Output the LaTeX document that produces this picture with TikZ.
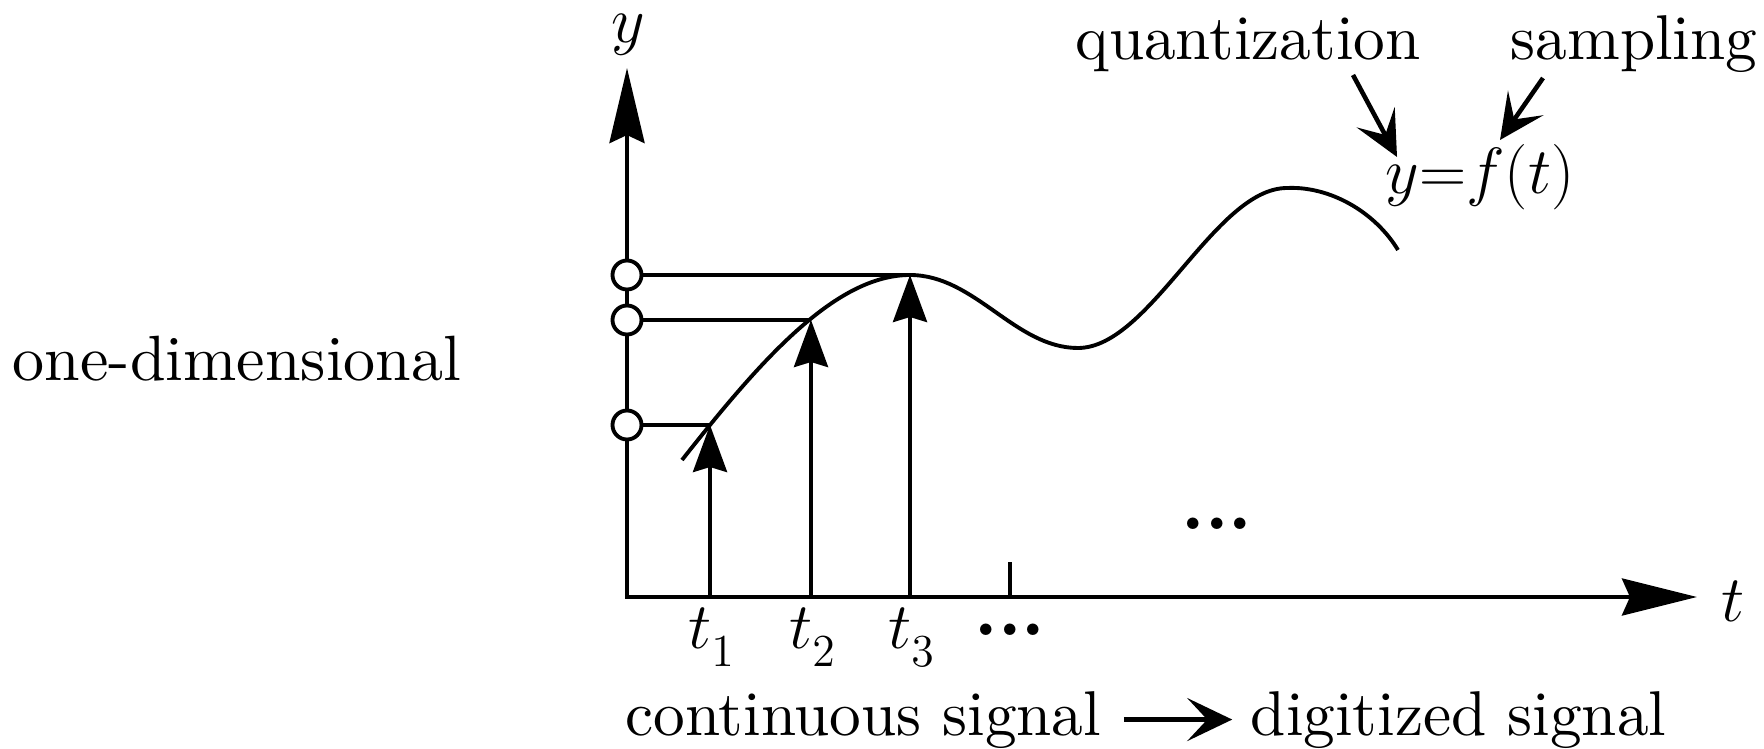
\RequirePackage{fix-cm}
\documentclass[tikz,border=0pt]{standalone}
\usepackage{fontspec}
\setmainfont{lmroman10-regular.otf}[BoldFont=lmroman10-bold.otf, ItalicFont=lmroman10-italic.otf]
\usetikzlibrary{arrows.meta}
\newcommand{\lowsub}[1]{_{\lower2.4pt\hbox{$\scriptstyle #1$}}}
\begin{document}
\begin{tikzpicture}[x=0.01cm,y=-0.01cm,
  every node/.style={font=\fontsize{18}{22}\selectfont, inner sep=0pt},
  mathlbl/.style={font=\fontsize{18.6}{22}\selectfont},
  ln/.style={line width=1.1pt},
  axisline/.style={line width=1.2pt,
    {Stealth[length=0.75cm,width=0.35cm,inset=0.08cm]}-{Stealth[length=0.75cm,width=0.37cm,inset=0.08cm]}},
  sample/.style={line width=1.1pt, -{Stealth[length=0.47cm,width=0.34cm,inset=0.05cm]}},
  pointer/.style={line width=1.3pt, -{Stealth[length=0.45cm,width=0.43cm,inset=0.2cm]}},
  level/.style={circle, draw, fill=white, line width=1.1pt, minimum size=0.29cm, inner sep=0pt},
  lbl/.style={anchor=base},
  dotlbl/.style={font=\fontsize{21}{24}\selectfont\bfseries}
]
\useasboundingbox (0,0) rectangle (1764,749);

% axes
\coordinate (O) at (627,597);
\coordinate (ytop) at (627,68);
\coordinate (xend) at (1697,597);
\draw[axisline] (ytop) -- (O) -- (xend);
\node[lbl, mathlbl] (ylab) at (628,43) {$y$};
\node[lbl, mathlbl] (tlab) at (1733,621) {$t$};

% signal curve
\draw[ln] (682,460) .. controls (760,361) and (835,275) .. (910,275)
  .. controls (975,275) and (1015,348) .. (1078,348)
  .. controls (1150,348) and (1215,188) .. (1287,188)
  .. controls (1330,186) and (1375,212) .. (1398,250);

% sample points on the curve
\coordinate (p1) at (710,425);
\coordinate (p2) at (811,320);
\coordinate (p3) at (910,275);
\coordinate (f1) at (710,597);
\coordinate (f2) at (811,597);
\coordinate (f3) at (910,597);

% quantization levels
\node[level] (c1) at (627,425) {};
\node[level] (c2) at (627,320) {};
\node[level] (c3) at (627,275) {};
\draw[ln] (c1) -- (p1);
\draw[ln] (c2) -- (p2);
\draw[ln] (c3) -- (p3);

% sampling arrows
\draw[sample] (f1) -- (p1);
\draw[sample] (f2) -- (p2);
\draw[sample] (f3) -- (p3);

% tick
\coordinate (tk) at (1010,597);
\coordinate (tktop) at (1010,562);
\draw[ln] (tk) -- (tktop);

% labels on the t axis
\node[lbl, mathlbl] (t1) at (712,648) {$t\lowsub{1}$};
\node[lbl, mathlbl] (t2) at (813,648) {$t\lowsub{2}$};
\node[lbl, mathlbl] (t3) at (912,648) {$t\lowsub{3}$};
\node[dotlbl] (dotsa) at (1010,630) {...};
\node[dotlbl] (dotsb) at (1217,524) {...};

% top labels
\node[lbl] (quant) at (1248,60) {quantization};
\node[lbl] (samp) at (1634,60) {sampling};
\node[lbl, mathlbl] (func) at (1480,194) {$y{=}f(t)$};
\coordinate (qa) at (1353,75);
\coordinate (qb) at (1397,157);
\coordinate (sa) at (1543,78);
\coordinate (sb) at (1500,140);
\draw[pointer] (qa) -- (qb);
\draw[pointer] (sa) -- (sb);

% left label
\node[lbl, font=\fontsize{18.2}{22}\selectfont] (onedim) at (237,381) {one-dimensional};

% bottom caption
\node[anchor=base west] (cont) at (625,735) {continuous signal};
\node[anchor=base east] (digi) at (1667,735) {digitized signal};
\draw[pointer, shorten <=0.22cm, shorten >=0.18cm] (cont.east) -- (digi.west);
\end{tikzpicture}
\end{document}
